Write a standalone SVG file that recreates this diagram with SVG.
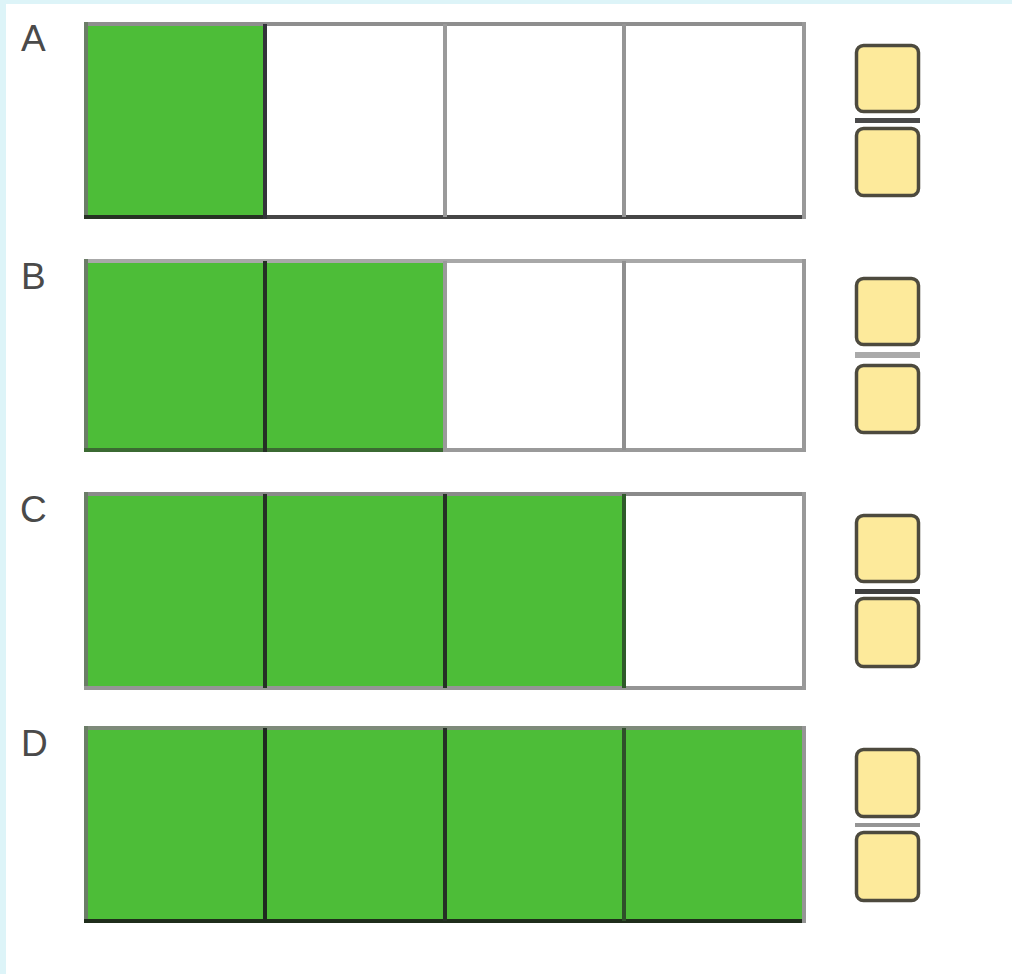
<svg xmlns="http://www.w3.org/2000/svg" width="1012" height="974" viewBox="0 0 1012 974">
<style>
.lbl{font-family:"Liberation Sans",Arial,sans-serif;font-size:37px;fill:#4a4a4a}
.g{fill:#4dbd38}
.w{fill:#ffffff}
.fb{fill:#fdea9b;stroke:#4d4a3e;stroke-width:3.5}
.e{stroke-width:4;fill:none}
</style>
<rect x="0" y="0" width="1012" height="974" fill="#ddf4f8"/>
<rect x="6" y="4" width="1006" height="970" fill="#ffffff"/>

<g id="rowA">
<text class="lbl" x="21" y="51">A</text>
<rect class="g" x="86" y="24" width="179" height="193"/>
<rect class="w" x="265" y="24" width="539" height="193"/>
<line class="e" x1="84" y1="24" x2="806" y2="24" stroke="#8e8e8e"/>
<line class="e" x1="86" y1="22" x2="86" y2="219" stroke="#6b7d67"/>
<line class="e" x1="84" y1="217" x2="265" y2="217" stroke="#263223"/>
<line class="e" x1="265" y1="217" x2="806" y2="217" stroke="#454545"/>
<line class="e" x1="265" y1="24" x2="265" y2="219" stroke="#33333a"/>
<line class="e" x1="445" y1="24" x2="445" y2="217" stroke="#9a9a9a"/>
<line class="e" x1="624" y1="24" x2="624" y2="217" stroke="#959595"/>
<line class="e" x1="804" y1="22" x2="804" y2="219" stroke="#999999"/>
</g>

<g id="rowB">
<text class="lbl" x="21" y="289">B</text>
<rect class="g" x="86" y="261" width="359" height="189"/>
<rect class="w" x="445" y="261" width="359" height="189"/>
<line class="e" x1="84" y1="261" x2="806" y2="261" stroke="#a8a8a8"/>
<line class="e" x1="86" y1="259" x2="86" y2="452" stroke="#6b7d67"/>
<line class="e" x1="84" y1="450" x2="445" y2="450" stroke="#3b6a32"/>
<line class="e" x1="445" y1="450" x2="806" y2="450" stroke="#9a9a9a"/>
<line class="e" x1="265" y1="261" x2="265" y2="452" stroke="#253025"/>
<line class="e" x1="445" y1="261" x2="445" y2="452" stroke="#9a9a9a"/>
<line class="e" x1="624" y1="261" x2="624" y2="450" stroke="#8f8f8f"/>
<line class="e" x1="804" y1="259" x2="804" y2="452" stroke="#999999"/>
</g>

<g id="rowC">
<text class="lbl" x="20" y="522">C</text>
<rect class="g" x="86" y="494" width="538" height="194"/>
<rect class="w" x="624" y="494" width="180" height="194"/>
<line class="e" x1="84" y1="494" x2="806" y2="494" stroke="#8a8a8a"/>
<line class="e" x1="86" y1="492" x2="86" y2="690" stroke="#6b7d67"/>
<line class="e" x1="84" y1="688" x2="806" y2="688" stroke="#959595"/>
<line class="e" x1="265" y1="494" x2="265" y2="688" stroke="#253025"/>
<line class="e" x1="445" y1="494" x2="445" y2="688" stroke="#253025"/>
<line class="e" x1="624" y1="494" x2="624" y2="688" stroke="#2f5a2a"/>
<line class="e" x1="804" y1="492" x2="804" y2="690" stroke="#999999"/>
</g>

<g id="rowD">
<text class="lbl" x="21" y="756">D</text>
<rect class="g" x="86" y="728" width="718" height="193"/>
<line class="e" x1="84" y1="728" x2="806" y2="728" stroke="#7e8a7a"/>
<line class="e" x1="86" y1="726" x2="86" y2="923" stroke="#6b7d67"/>
<line class="e" x1="84" y1="921" x2="806" y2="921" stroke="#1f2d1b"/>
<line class="e" x1="265" y1="728" x2="265" y2="921" stroke="#1f2a1f"/>
<line class="e" x1="445" y1="728" x2="445" y2="921" stroke="#253025"/>
<line class="e" x1="624" y1="728" x2="624" y2="921" stroke="#2f4f2a"/>
<line class="e" x1="804" y1="726" x2="804" y2="923" stroke="#959595"/>
</g>

<g id="fracA">
<rect class="fb" x="856.5" y="45.5" width="62" height="66" rx="7"/>
<rect x="855" y="118" width="65" height="5" fill="#4a4a4a"/>
<rect class="fb" x="856.5" y="128.5" width="62" height="67" rx="7"/>
</g>
<g id="fracB">
<rect class="fb" x="856.5" y="278.5" width="62" height="66" rx="7"/>
<rect x="855" y="352" width="65" height="6" fill="#aaaaaa"/>
<rect class="fb" x="856.5" y="365.5" width="62" height="67" rx="7"/>
</g>
<g id="fracC">
<rect class="fb" x="856.5" y="515.5" width="62" height="66" rx="7"/>
<rect x="855" y="589" width="65" height="5" fill="#3f3f3f"/>
<rect class="fb" x="856.5" y="598.5" width="62" height="68" rx="7"/>
</g>
<g id="fracD">
<rect class="fb" x="856.5" y="749.5" width="62" height="67" rx="7"/>
<rect x="855" y="823" width="65" height="4" fill="#959595"/>
<rect class="fb" x="856.5" y="832.5" width="62" height="68" rx="7"/>
</g>

<g id="connectors"></g>
</svg>
